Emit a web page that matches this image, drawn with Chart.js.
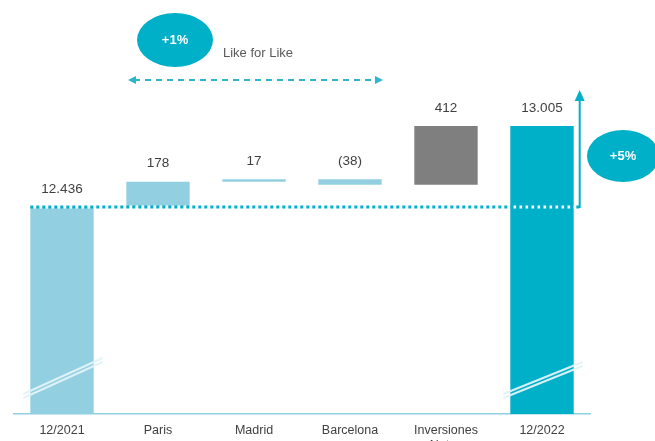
<!DOCTYPE html>
<html>
<head>
<meta charset="utf-8">
<script src="https://cdn.jsdelivr.net/npm/chart.js@4"></script>
<style>
  html, body { margin: 0; padding: 0; background: #fff; }
  #wrap { width: 655px; height: 441px; }
</style>
</head>
<body>
<div id="wrap"><canvas id="waterfall"></canvas></div>
<script>
// Waterfall - 12/2021 to 12/2022
const categories = ["12/2021", "Paris", "Madrid", "Barcelona", ["Inversiones", "Netas"], "12/2022"];
const startValue = 12436;
const changes = [178, 17, -38, 412];
const endValue = 13005;
const valueLabels = ["12.436", "178", "17", "(38)", "412", "13.005"];
const barColors = ["#92cfe0", "#92cfe0", "#92cfe0", "#92cfe0", "#7f7f7f", "#00afc8"];

// broken axis: the scale starts well above zero
const axisMin = 10982;
const axisMax = 13890;

// build floating bars from the running total
const bars = [[axisMin, startValue]];
let running = startValue;
changes.forEach(c => {
  bars.push([running, running + c]);
  running += c;
});
bars.push([axisMin, endValue]);

const TEAL = "#00afc8";

function ellipse(ctx, cx, cy, rx, ry, text) {
  ctx.save();
  ctx.fillStyle = TEAL;
  ctx.beginPath();
  ctx.ellipse(cx, cy, rx, ry, 0, 0, Math.PI * 2);
  ctx.fill();
  ctx.fillStyle = "#fff";
  ctx.font = "bold 13px 'Liberation Sans', Arial, sans-serif";
  ctx.textAlign = "center";
  ctx.textBaseline = "middle";
  ctx.fillText(text, cx, cy);
  ctx.restore();
}

const extras = {
  id: "extras",
  afterDatasetsDraw(chart) {
    const ctx = chart.ctx;
    const meta = chart.getDatasetMeta(0);
    const y = chart.scales.y;

    // break marks on the two total bars
    [[0, 36], [5, 32]].forEach(([i, rise]) => {
      const el = meta.data[i];
      const x0 = el.x - el.width / 2 - 7, x1 = el.x + el.width / 2 + 9;
      const yb = y.bottom - 16;
      ctx.save();
      ctx.strokeStyle = "rgba(225,243,249,0.95)";
      ctx.lineWidth = 2;
      [0, 4].forEach(off => {
        ctx.beginPath();
        ctx.moveTo(x0, yb - off);
        ctx.lineTo(x1, yb - off - rise);
        ctx.stroke();
      });
      ctx.restore();
    });

    // value labels
    ctx.save();
    ctx.fillStyle = "#404040";
    ctx.font = "13.5px 'Liberation Sans', Arial, sans-serif";
    ctx.textAlign = "center";
    ctx.textBaseline = "middle";
    meta.data.forEach((el, i) => {
      ctx.fillText(valueLabels[i], el.x, Math.min(el.y, el.base) - 18);
    });
    ctx.restore();

    // dotted reference line at the starting value (teal dots, white in between)
    const yStart = y.getPixelForValue(startValue);
    const first = meta.data[0], last = meta.data[5];
    const arrowX = last.x + last.width / 2 + 6;
    ctx.save();
    ctx.lineWidth = 3;
    ctx.setLineDash([3, 3]);
    ctx.strokeStyle = "#ffffff";
    ctx.lineDashOffset = 3;
    ctx.beginPath();
    ctx.moveTo(first.x - first.width / 2, yStart);
    ctx.lineTo(arrowX - 3, yStart);
    ctx.stroke();
    ctx.strokeStyle = TEAL;
    ctx.lineDashOffset = 0;
    ctx.beginPath();
    ctx.moveTo(first.x - first.width / 2, yStart);
    ctx.lineTo(arrowX, yStart);
    ctx.stroke();
    ctx.restore();

    // vertical growth arrow
    const tipY = y.getPixelForValue(endValue) - 36;
    ctx.save();
    ctx.strokeStyle = TEAL;
    ctx.fillStyle = TEAL;
    ctx.lineWidth = 2;
    ctx.beginPath();
    ctx.moveTo(arrowX, yStart + 1);
    ctx.lineTo(arrowX, tipY + 10);
    ctx.stroke();
    ctx.beginPath();
    ctx.moveTo(arrowX, tipY);
    ctx.lineTo(arrowX - 5, tipY + 11);
    ctx.lineTo(arrowX + 5, tipY + 11);
    ctx.closePath();
    ctx.fill();
    ctx.restore();

    // like for like dashed double arrow
    const lx0 = meta.data[1].x - 30, lx1 = meta.data[3].x + 33, ly = 80;
    ctx.save();
    ctx.strokeStyle = "#2cb6cc";
    ctx.fillStyle = "#2cb6cc";
    ctx.lineWidth = 2;
    ctx.setLineDash([6, 5]);
    ctx.beginPath();
    ctx.moveTo(lx0 + 6, ly);
    ctx.lineTo(lx1 - 6, ly);
    ctx.stroke();
    ctx.setLineDash([]);
    ctx.beginPath();
    ctx.moveTo(lx0, ly);
    ctx.lineTo(lx0 + 8, ly - 4);
    ctx.lineTo(lx0 + 8, ly + 4);
    ctx.closePath();
    ctx.fill();
    ctx.beginPath();
    ctx.moveTo(lx1, ly);
    ctx.lineTo(lx1 - 8, ly - 4);
    ctx.lineTo(lx1 - 8, ly + 4);
    ctx.closePath();
    ctx.fill();
    ctx.restore();

    ellipse(ctx, 175, 40, 38, 27, "+1%");
    ellipse(ctx, 623, 156, 36, 26, "+5%");

    ctx.save();
    ctx.fillStyle = "#595959";
    ctx.font = "13px 'Liberation Sans', Arial, sans-serif";
    ctx.textBaseline = "middle";
    ctx.fillText("Like for Like", 223, 53);
    ctx.restore();
  }
};

new Chart(document.getElementById("waterfall"), {
  type: "bar",
  data: {
    labels: categories,
    datasets: [
      {
        data: bars,
        backgroundColor: barColors,
        borderWidth: 0,
        borderSkipped: false,
        barPercentage: 0.66,
        categoryPercentage: 1,
      },
    ],
  },
  options: {
    responsive: true,
    maintainAspectRatio: false,
    animation: false,
    events: [],
    layout: { padding: { left: 14, right: 65, top: 0, bottom: 0 } },
    plugins: { legend: { display: false }, tooltip: { enabled: false } },
    scales: {
      y: { display: false, min: axisMin, max: axisMax },
      x: {
        grid: { display: false, drawTicks: false },
        border: { color: "#8fd0e1", width: 1.5 },
        ticks: {
          color: "#404040",
          padding: 9,
          maxRotation: 0,
          autoSkip: false,
          font: { family: "'Liberation Sans', Arial, sans-serif", size: 12.5 },
        },
        afterFit: s => { s.height = 27; },
      },
    },
  },
  plugins: [extras],
});
</script>
</body>
</html>
